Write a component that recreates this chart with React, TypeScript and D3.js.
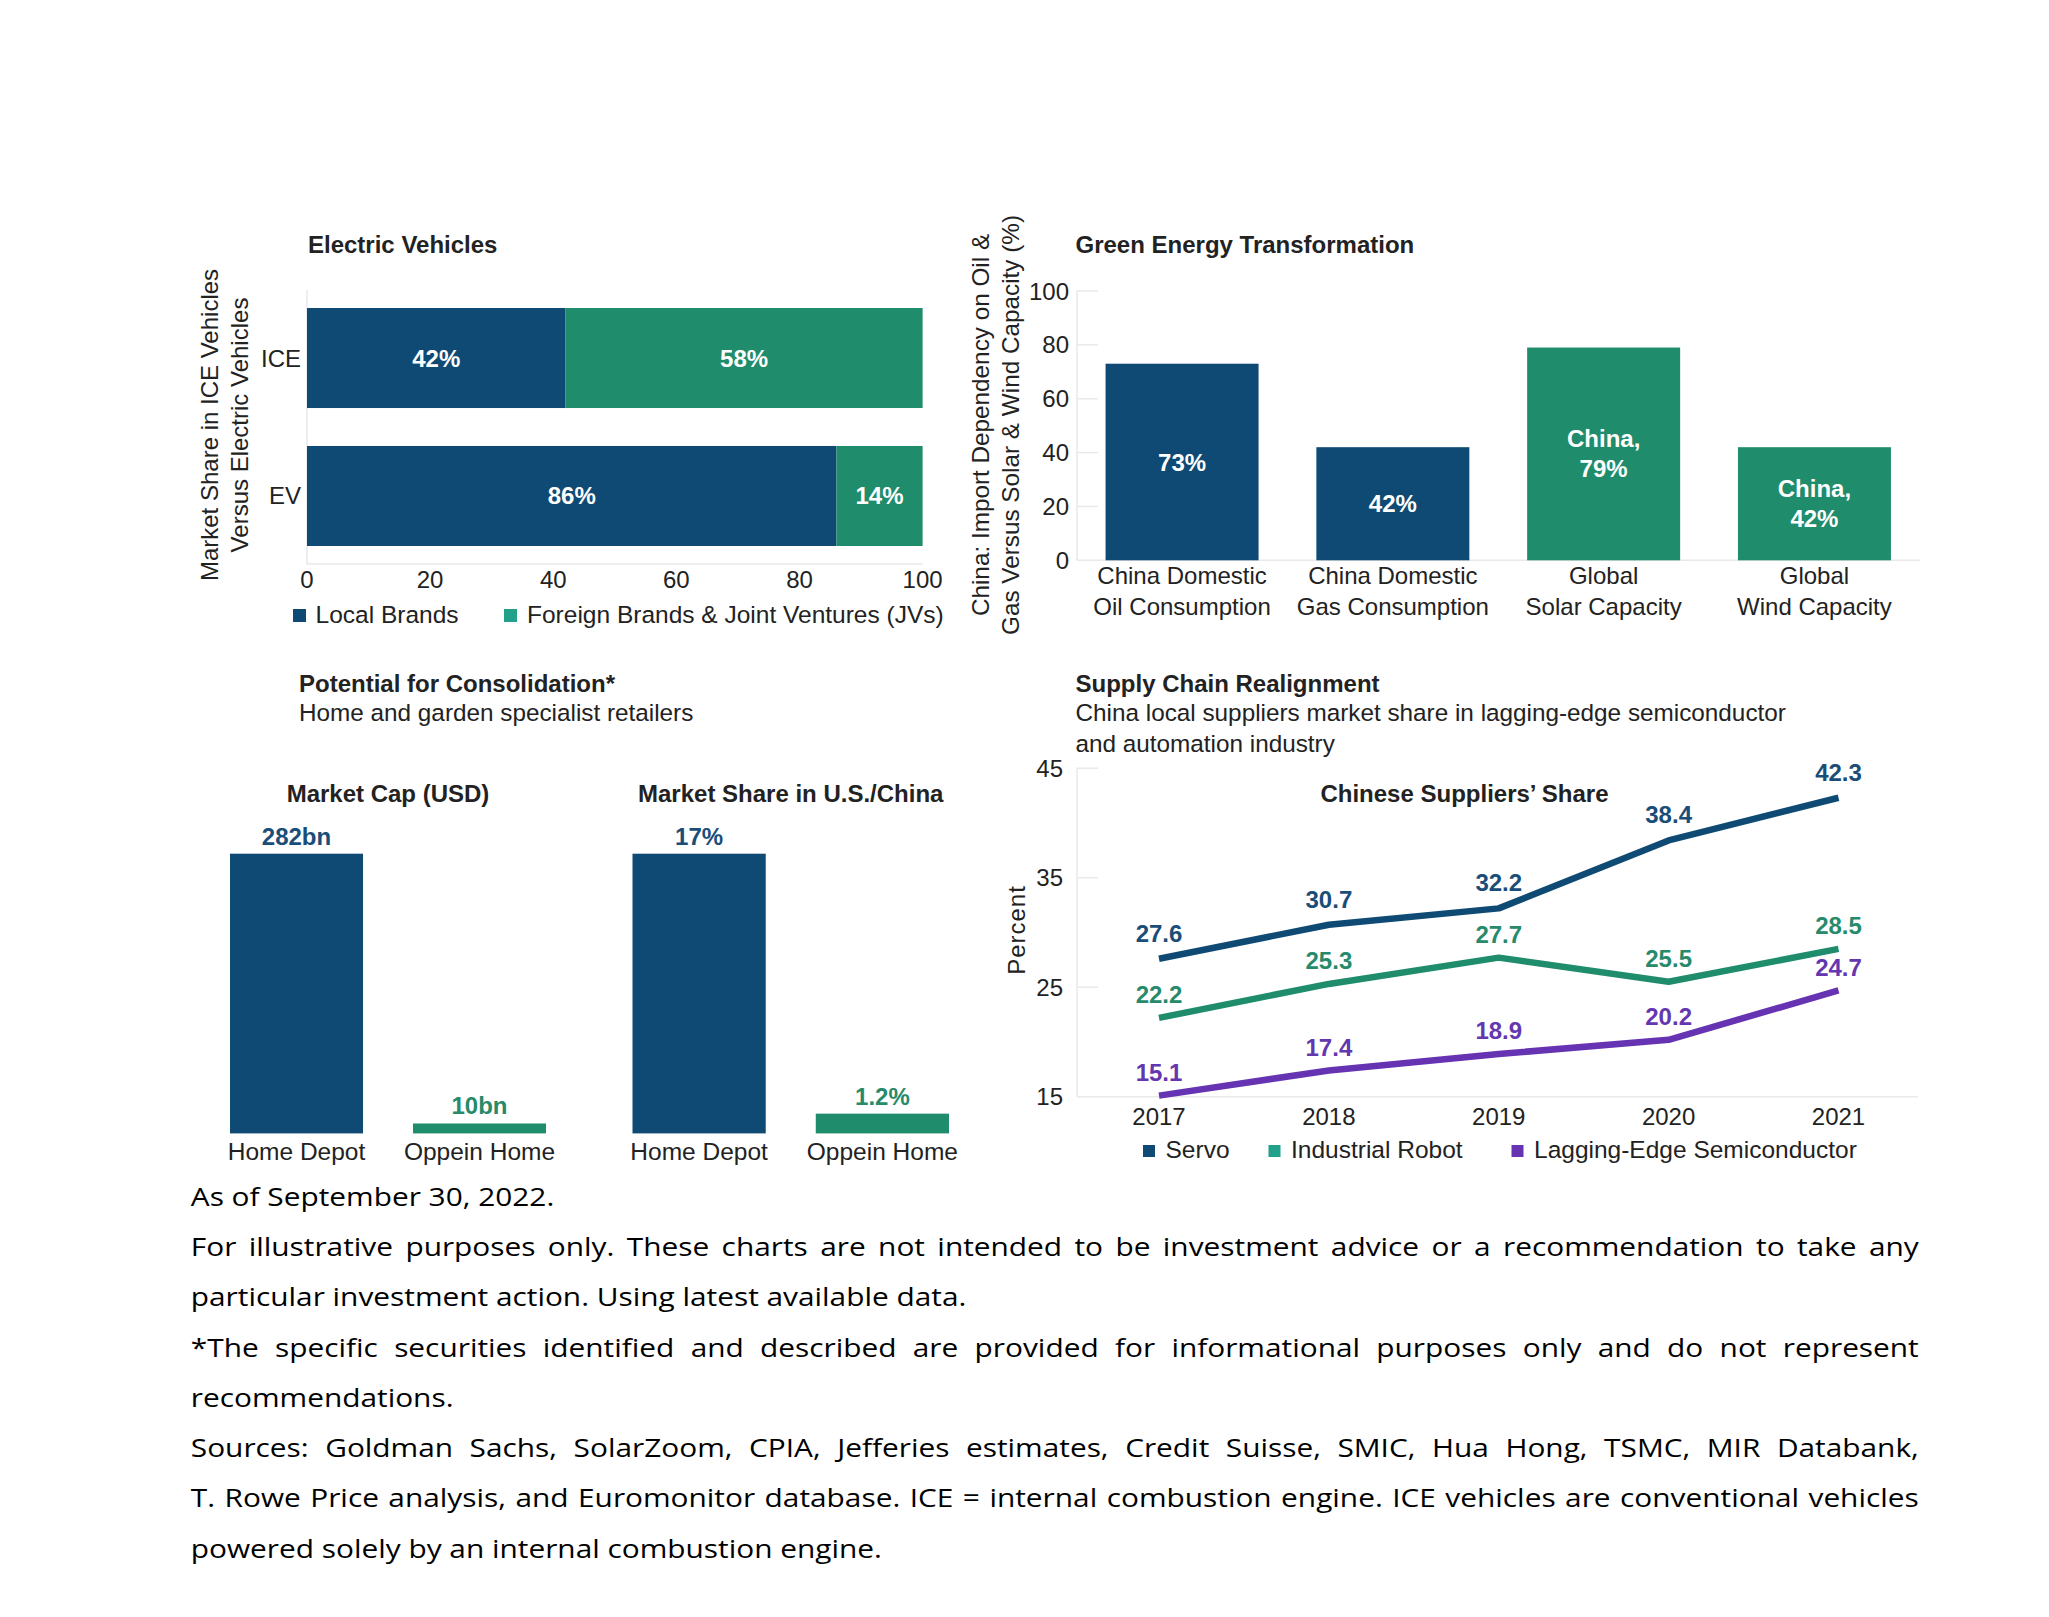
import React, { useLayoutEffect, useRef, useState } from "react";
import * as d3 from "d3";

// ---------------- DATA ----------------
// Electric Vehicles
const evCategories = ["ICE", "EV"];
const evLocal = [42, 86];
const evForeign = [58, 14];
const evTicks = [0, 20, 40, 60, 80, 100];
const evLegend = ["Local Brands", "Foreign Brands & Joint Ventures (JVs)"];
const evYTitle = ["Market Share in ICE Vehicles", "Versus Electric Vehicles"];

// Green Energy Transformation
const greenCategories = [
  ["China Domestic", "Oil Consumption"],
  ["China Domestic", "Gas Consumption"],
  ["Global", "Solar Capacity"],
  ["Global", "Wind Capacity"],
];
const greenValues = [73, 42, 79, 42];
const greenLabels = [["73%"], ["42%"], ["China,", "79%"], ["China,", "42%"]];
const greenGroup = ["import", "import", "capacity", "capacity"];
const greenTicks = [0, 20, 40, 60, 80, 100];
const greenYTitle = ["China: Import Dependency on Oil &", "Gas Versus Solar & Wind Capacity (%)"];

// Potential for Consolidation
const consCompanies = ["Home Depot", "Oppein Home"];
const marketCap = [282, 10];
const marketCapLabels = ["282bn", "10bn"];
const marketShare = [17, 1.2];
const marketShareLabels = ["17%", "1.2%"];

// Supply Chain Realignment
const years = ["2017", "2018", "2019", "2020", "2021"];
const servo = [27.6, 30.7, 32.2, 38.4, 42.3];
const robot = [22.2, 25.3, 27.7, 25.5, 28.5];
const semi = [15.1, 17.4, 18.9, 20.2, 24.7];
const supplyTicks = [15, 25, 35, 45];
const supplyNames = ["Servo", "Industrial Robot", "Lagging-Edge Semiconductor"];

// Footnotes
const footLines = [
  "As of September 30, 2022.",
  "For illustrative purposes only. These charts are not intended to be investment advice or a recommendation to take any",
  "particular investment action. Using latest available data.",
  "*The specific securities identified and described are provided for informational purposes only and do not represent",
  "recommendations.",
  "Sources: Goldman Sachs, SolarZoom, CPIA, Jefferies estimates, Credit Suisse, SMIC, Hua Hong, TSMC, MIR Databank,",
  "T. Rowe Price analysis, and Euromonitor database. ICE = internal combustion engine. ICE vehicles are conventional vehicles",
  "powered solely by an internal combustion engine.",
];
const footJustify = [false, true, false, true, false, true, true, false];

// ---------------- STYLE ----------------
const W = 2049;
const H = 1617;
const BLUE = "#0e4a73";
const GREEN = "#1f8c6b";
const TEAL = "#22a08a";
const PURPLE = "#6634b2";
const BLUE_TXT = "#1a4d78";
const GREEN_TXT = "#268a6b";
const PURPLE_TXT = "#6437b0";
const TXT = "#222";
const FAINT = "#e9e9e9";
const FONT = "'Liberation Sans', Arial, Helvetica, sans-serif";
const FOOT_FONT = "'Open Sans', 'Noto Sans', sans-serif";

function EVChart() {
  const x = d3.scaleLinear().domain([0, 100]).range([307, 922.6]);
  const y = d3.scaleBand<string>().domain(evCategories).range([308, 546]).paddingInner(0.275).paddingOuter(0);
  return (
    <g fontFamily={FONT}>
      <text x={308} y={252.5} fontSize={24} fontWeight={700} fill={TXT}>Electric Vehicles</text>
      {evYTitle.map((t, i) => (
        <text key={t} transform={`translate(${217.5 + i * 30},425) rotate(-90)`} textAnchor="middle" fontSize={24} fill={TXT}>{t}</text>
      ))}
      <line x1={x(0)} x2={x(0)} y1={290} y2={564} stroke={FAINT} strokeWidth={1.5} />
      <line x1={x(0)} x2={x(100)} y1={564} y2={564} stroke={FAINT} strokeWidth={1.5} />
      {evCategories.map((c, i) => {
        const by = y(c)!;
        const bw = y.bandwidth();
        return (
          <g key={c}>
            <rect x={x(0)} y={by} width={x(evLocal[i]) - x(0)} height={bw} fill={BLUE} />
            <rect x={x(evLocal[i])} y={by} width={x(evLocal[i] + evForeign[i]) - x(evLocal[i])} height={bw} fill={GREEN} />
            <text x={(x(0) + x(evLocal[i])) / 2} y={by + bw / 2 + 8.5} textAnchor="middle" fontSize={24} fontWeight={700} fill="#fff">{evLocal[i]}%</text>
            <text x={(x(evLocal[i]) + x(evLocal[i] + evForeign[i])) / 2} y={by + bw / 2 + 8.5} textAnchor="middle" fontSize={24} fontWeight={700} fill="#fff">{evForeign[i]}%</text>
            <text x={301} y={by + bw / 2 + 8.5} textAnchor="end" fontSize={24} fill={TXT}>{c}</text>
          </g>
        );
      })}
      {evTicks.map((t) => (
        <text key={t} x={x(t)} y={587.5} textAnchor="middle" fontSize={24} fill={TXT}>{t}</text>
      ))}
      <rect x={293} y={609} width={13} height={13} fill={BLUE} />
      <text x={315.5} y={623} fontSize={24.5} fill={TXT}>{evLegend[0]}</text>
      <rect x={504} y={609} width={13} height={13} fill={TEAL} />
      <text x={527} y={623} fontSize={24.5} fill={TXT}>{evLegend[1]}</text>
    </g>
  );
}

function GreenChart() {
  const x = d3.scaleBand<number>().domain(d3.range(greenValues.length)).range([1077, 1919.5]).paddingInner(0.2742).paddingOuter(0.1355);
  const y = d3.scaleLinear().domain([0, 100]).range([560.3, 291]);
  return (
    <g fontFamily={FONT}>
      <text x={1075.5} y={252.5} fontSize={24} fontWeight={700} fill={TXT}>Green Energy Transformation</text>
      {greenYTitle.map((t, i) => (
        <text key={t} transform={`translate(${988.5 + i * 30},425) rotate(-90)`} textAnchor="middle" fontSize={24.3} fill={TXT}>{t}</text>
      ))}
      <line x1={1077} x2={1077} y1={y(100)} y2={y(0)} stroke={FAINT} strokeWidth={1.5} />
      {greenTicks.map((t) => (
        <g key={t}>
          <line x1={1077} x2={t === 0 ? 1920 : 1098} y1={y(t)} y2={y(t)} stroke={FAINT} strokeWidth={1.5} />
          <text x={1069} y={y(t) + 8.5} textAnchor="end" fontSize={24} fill={TXT}>{t}</text>
        </g>
      ))}
      {greenValues.map((v, i) => {
        const bx = x(i)!;
        const bw = x.bandwidth();
        const mid = (y(v) + y(0)) / 2;
        const lines = greenLabels[i];
        return (
          <g key={i}>
            <rect x={bx} y={y(v)} width={bw} height={y(0) - y(v)} fill={greenGroup[i] === "import" ? BLUE : GREEN} />
            {lines.map((l, j) => (
              <text key={j} x={bx + bw / 2} y={mid + 8.5 + (j - (lines.length - 1) / 2) * 30} textAnchor="middle" fontSize={24} fontWeight={700} fill="#fff">{l}</text>
            ))}
            {greenCategories[i].map((l, j) => (
              <text key={l} x={bx + bw / 2} y={583.5 + j * 31} textAnchor="middle" fontSize={24} fill={TXT}>{l}</text>
            ))}
          </g>
        );
      })}
    </g>
  );
}

function ConsolidationChart() {
  const bottom = 1133.4;
  const top = 853.7;
  const capX = d3.scaleBand<string>().domain(consCompanies).range([230, 546]).paddingInner(0.273).paddingOuter(0);
  const shareX = d3.scaleBand<string>().domain(consCompanies).range([632.5, 949]).paddingInner(0.273).paddingOuter(0);
  const capY = d3.scaleLinear().domain([0, d3.max(marketCap)!]).range([bottom, top]);
  const shareY = d3.scaleLinear().domain([0, d3.max(marketShare)!]).range([bottom, top]);
  const panels = [
    { title: "Market Cap (USD)", x: capX, y: capY, vals: marketCap, labels: marketCapLabels },
    { title: "Market Share in U.S./China", x: shareX, y: shareY, vals: marketShare, labels: marketShareLabels },
  ];
  return (
    <g fontFamily={FONT}>
      <text x={299} y={692} fontSize={24} fontWeight={700} fill={TXT}>Potential for Consolidation*</text>
      <text x={299} y={720.5} fontSize={24.3} fill={TXT}>Home and garden specialist retailers</text>
      {panels.map((p) => {
        const r = p.x.range();
        return (
          <g key={p.title}>
            <text x={(r[0] + r[1]) / 2} y={801.5} textAnchor="middle" fontSize={24} fontWeight={700} fill={TXT}>{p.title}</text>
            {consCompanies.map((c, i) => {
              const bx = p.x(c)!;
              const bw = p.x.bandwidth();
              return (
                <g key={c}>
                  <rect x={bx} y={p.y(p.vals[i])} width={bw} height={bottom - p.y(p.vals[i])} fill={i === 0 ? BLUE : GREEN} />
                  <text x={bx + bw / 2} y={p.y(p.vals[i]) - 9} textAnchor="middle" fontSize={24} fontWeight={700} fill={i === 0 ? BLUE_TXT : GREEN_TXT}>{p.labels[i]}</text>
                  <text x={bx + bw / 2} y={1160} textAnchor="middle" fontSize={24.5} fill={TXT}>{c}</text>
                </g>
              );
            })}
          </g>
        );
      })}
    </g>
  );
}

function SupplyChart() {
  const x = d3.scalePoint<string>().domain(years).range([1159, 1838.5]);
  const y = d3.scaleLinear().domain([15, 45]).range([1096.7, 768.2]);
  const line = d3.line<number>().x((_, i) => x(years[i])!).y((d) => y(d));
  const series = [
    { name: supplyNames[0], vals: servo, color: BLUE, txt: BLUE_TXT, legend: BLUE, lx: 1143, gap: 17 },
    { name: supplyNames[1], vals: robot, color: GREEN, txt: GREEN_TXT, legend: TEAL, lx: 1268.5, gap: 14.5 },
    { name: supplyNames[2], vals: semi, color: PURPLE, txt: PURPLE_TXT, legend: PURPLE, lx: 1511.5, gap: 14.5 },
  ];
  return (
    <g fontFamily={FONT}>
      <text x={1075.5} y={692} fontSize={24} fontWeight={700} fill={TXT}>Supply Chain Realignment</text>
      <text x={1075.5} y={720.5} fontSize={24.3} fill={TXT}>China local suppliers market share in lagging-edge semiconductor</text>
      <text x={1075.5} y={752} fontSize={24.3} fill={TXT}>and automation industry</text>
      <text transform="translate(1025,930) rotate(-90)" textAnchor="middle" fontSize={24} letterSpacing={1} fill={TXT}>Percent</text>
      <line x1={1077} x2={1077} y1={y(45)} y2={y(15)} stroke={FAINT} strokeWidth={1.5} />
      {supplyTicks.map((t) => (
        <g key={t}>
          <line x1={1077} x2={t === 15 ? 1918 : 1098} y1={y(t)} y2={y(t)} stroke={FAINT} strokeWidth={1.5} />
          <text x={1063} y={y(t) + 8.5} textAnchor="end" fontSize={24} fill={TXT}>{t}</text>
        </g>
      ))}
      {years.map((yr) => (
        <text key={yr} x={x(yr)} y={1124.5} textAnchor="middle" fontSize={24} fill={TXT}>{yr}</text>
      ))}
      <text x={1464.5} y={801.5} textAnchor="middle" fontSize={24} fontWeight={700} fill={TXT}>Chinese Suppliers’ Share</text>
      {series.map((s) => (
        <g key={s.name}>
          <path d={line(s.vals)!} fill="none" stroke={s.color} strokeWidth={6.5} strokeLinejoin="round" />
          {s.vals.map((v, i) => (
            <text key={i} x={x(years[i])} y={y(v) - s.gap} textAnchor="middle" fontSize={24} fontWeight={700} fill={s.txt}>{v.toFixed(1)}</text>
          ))}
          <rect x={s.lx} y={1145} width={12} height={12} fill={s.legend} />
          <text x={s.lx + 22.5} y={1158.3} fontSize={24.5} fill={TXT}>{s.name}</text>
        </g>
      ))}
    </g>
  );
}

const FOOT_LEFT = 190.8;
const FOOT_WIDTH = 1729;
const FOOT_REF_WIDTH = 776; // width of the unjustified 3rd line in the reference
const FOOT_SIZE = 26;

function Footnotes() {
  const refs = useRef<(SVGTextElement | null)[]>([]);
  const [lay, setLay] = useState<{ c: number; extra: number[] } | null>(null);
  useLayoutEffect(() => {
    const w = refs.current.map((el) => (el ? el.getComputedTextLength() : 0));
    const c = w[2] > 0 ? FOOT_REF_WIDTH / w[2] : 1;
    const extra = footLines.map((l, i) => {
      if (!footJustify[i]) return 0;
      const n = l.split(" ").length - 1;
      return (FOOT_WIDTH / c - w[i]) / n;
    });
    setLay({ c, extra });
  }, []);
  const c = lay ? lay.c : 1;
  return (
    <g transform={`translate(${FOOT_LEFT},0) scale(${c},1)`} fontFamily={FOOT_FONT} fontSize={FOOT_SIZE} fill="#000">
      {footLines.map((l, i) => {
        const words = l.split(" ");
        const ex = lay ? lay.extra[i] : 0;
        return (
          <text
            key={i}
            ref={(el) => {
              refs.current[i] = el;
            }}
            x={0}
            y={1206 + i * 50.23}
          >
            {words.map((wd, j) => (
              <tspan key={j} dx={j === 0 ? 0 : ex}>
                {j === 0 ? wd : "\u00a0" + wd}
              </tspan>
            ))}
          </text>
        );
      })}
    </g>
  );
}

export default function App() {
  return (
    <svg
      width={W}
      height={H}
      viewBox={`0 0 ${W} ${H}`}
      style={{ position: "absolute", left: 0, top: 0, background: "#fff" }}
    >
      <rect x={0} y={0} width={W} height={H} fill="#fff" />
      <EVChart />
      <GreenChart />
      <ConsolidationChart />
      <SupplyChart />
      <Footnotes />
    </svg>
  );
}
